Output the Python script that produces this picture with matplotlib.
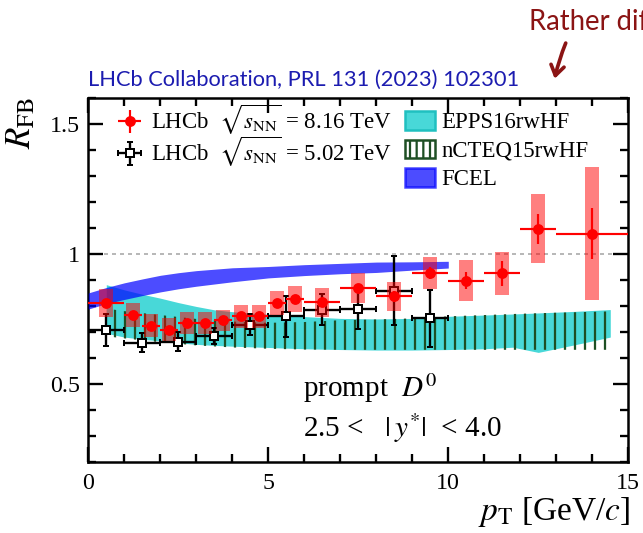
import matplotlib
matplotlib.use('Agg')
import matplotlib.pyplot as plt
from matplotlib.patches import Patch
from matplotlib.ticker import FixedLocator, MultipleLocator, FixedFormatter

# ---------------- data ----------------
# LHCb 8.16 TeV prompt D0
red_x = [0.5, 1.25, 1.75, 2.25, 2.75, 3.25, 3.75, 4.25, 4.75, 5.25, 5.75, 6.5, 7.5, 8.5, 9.5, 10.5, 11.5, 12.5, 14.0]
red_xerr = [0.5, 0.25, 0.25, 0.25, 0.25, 0.25, 0.25, 0.25, 0.25, 0.25, 0.25, 0.5, 0.5, 0.5, 0.5, 0.5, 0.5, 0.5, 1.0]
red_y = [0.812, 0.766, 0.724, 0.708, 0.734, 0.734, 0.744, 0.760, 0.760, 0.812, 0.827, 0.814, 0.868, 0.837, 0.927, 0.898, 0.925, 1.097, 1.079]
red_stat = [0.012, 0.010, 0.010, 0.010, 0.010, 0.010, 0.010, 0.010, 0.010, 0.012, 0.013, 0.014, 0.016, 0.020, 0.022, 0.032, 0.050, 0.058, 0.098]
red_syst = [0.055, 0.047, 0.044, 0.044, 0.043, 0.043, 0.042, 0.045, 0.045, 0.047, 0.050, 0.055, 0.057, 0.057, 0.063, 0.078, 0.083, 0.133, 0.255]

# LHCb 5.02 TeV
black_x = [0.5, 1.5, 2.5, 3.5, 4.5, 5.5, 6.5, 7.5, 8.5, 9.5]
black_xerr = [0.5, 0.5, 0.5, 0.5, 0.5, 0.5, 0.5, 0.5, 0.5, 0.5]
black_y = [0.707, 0.659, 0.663, 0.685, 0.728, 0.760, 0.786, 0.788, 0.859, 0.753]
black_yerr = [0.062, 0.035, 0.035, 0.030, 0.040, 0.080, 0.060, 0.077, 0.134, 0.110]

# EPPS16rwHF band
epps_x = [0.5, 1.0, 1.5, 2.0, 2.5, 3.0, 3.5, 4.0, 5.0, 6.0, 7.0, 8.0, 9.0, 10.0, 11.0, 11.8, 12.5, 13.5, 14.5]
epps_hi = [0.882, 0.862, 0.845, 0.830, 0.813, 0.798, 0.785, 0.778, 0.768, 0.759, 0.752, 0.750, 0.752, 0.760, 0.765, 0.769, 0.773, 0.779, 0.786]
epps_lo = [0.695, 0.680, 0.672, 0.665, 0.658, 0.652, 0.648, 0.645, 0.640, 0.635, 0.632, 0.630, 0.630, 0.632, 0.635, 0.641, 0.621, 0.650, 0.680]

# nCTEQ15rwHF band
ncteq_x = [0.5, 1.0, 2.0, 3.0, 4.0, 5.0, 6.0, 7.0, 8.0, 9.0, 10.0, 11.0, 12.0, 13.0, 14.5]
ncteq_hi = [0.790, 0.780, 0.765, 0.750, 0.740, 0.735, 0.738, 0.745, 0.748, 0.752, 0.760, 0.765, 0.770, 0.774, 0.779]
ncteq_lo = [0.683, 0.675, 0.660, 0.648, 0.640, 0.635, 0.632, 0.631, 0.631, 0.631, 0.631, 0.631, 0.631, 0.631, 0.631]

# FCEL band
fcel_x = [0.0, 0.5, 1.0, 1.5, 2.0, 2.5, 3.0, 4.0, 5.0, 6.0, 7.0, 8.0, 9.0, 10.0]
fcel_hi = [0.850, 0.871, 0.889, 0.904, 0.918, 0.928, 0.936, 0.947, 0.952, 0.959, 0.964, 0.969, 0.970, 0.972]
fcel_lo = [0.788, 0.809, 0.825, 0.840, 0.854, 0.866, 0.876, 0.893, 0.908, 0.917, 0.924, 0.929, 0.938, 0.946]

x_major = [0, 5, 10, 15]
x_labels = ['0', '5', '10', '15']
y_major = [0.5, 1.0, 1.5]
y_labels = ['0.5', '1', '1.5']

# ---------------- style ----------------
plt.rcParams['font.family'] = ['Liberation Serif', 'DejaVu Serif']
plt.rcParams['mathtext.fontset'] = 'stix'
plt.rcParams['hatch.linewidth'] = 1.35

DPI = 120
fig = plt.figure(figsize=(643 / DPI, 533 / DPI), dpi=DPI)
ax = fig.add_axes([0.1373, 0.1338, 0.8398, 0.6818])

c_red = '#ff0000'
c_cyan = '#48d8d8'
c_green = '#1e4f24'
c_blue = '#0000ff'

ax.axhline(1.0, color='#b8b8b8', ls=(0, (2, 2)), lw=1.2, zorder=0.5)

ax.fill_between(epps_x, epps_lo, epps_hi, color=c_cyan, lw=0, zorder=1)
ax.fill_between(ncteq_x, ncteq_lo, ncteq_hi, facecolor='none', edgecolor=c_green,
                hatch='||', lw=0, zorder=2)
ax.fill_between(fcel_x, fcel_lo, fcel_hi, color=c_blue, alpha=0.7, lw=0, zorder=3)

eb_black = ax.errorbar(black_x, black_y, xerr=black_xerr, yerr=black_yerr, fmt='s',
                       color='black', mfc='white', mec='black', ms=4.5, mew=1.2,
                       elinewidth=1.4, capsize=1.8, capthick=1.4, zorder=4)

ax.bar(red_x, [2 * s for s in red_syst], width=0.4,
       bottom=[v - s for v, s in zip(red_y, red_syst)],
       color=c_red, alpha=0.5, lw=0, zorder=5)

eb_red = ax.errorbar(red_x, red_y, xerr=red_xerr, yerr=red_stat, fmt='o',
                     color=c_red, ms=5.5, elinewidth=1.3, capsize=0, zorder=6)

ax.set_xlim(0, 15)
ax.set_ylim(0.2, 1.6)
ax.xaxis.set_major_locator(FixedLocator(x_major))
ax.xaxis.set_major_formatter(FixedFormatter(x_labels))
ax.xaxis.set_minor_locator(MultipleLocator(1))
ax.yaxis.set_major_locator(FixedLocator(y_major))
ax.yaxis.set_major_formatter(FixedFormatter(y_labels))
ax.yaxis.set_minor_locator(MultipleLocator(0.1))
ax.tick_params(which='both', direction='in', top=True, right=True, width=1.4, colors='black')
ax.tick_params(which='major', length=9, labelsize=14.4)
ax.tick_params(axis='x', which='major', pad=6.5)
ax.tick_params(axis='y', which='major', pad=5)
ax.tick_params(which='minor', length=4.6)
for sp in ax.spines.values():
    sp.set_linewidth(1.5)

ax.set_ylabel(r'$R_{\mathrm{FB}}$', fontsize=21, loc='top')
ax.yaxis.set_label_coords(-0.093, 1.004)
ax.set_xlabel(r'$p_{\mathrm{T}}$ [GeV/$c$]', fontsize=20, loc='right')
ax.xaxis.set_label_coords(1.004, -0.092)

ax.text(0.3976, 0.178, r'prompt  $D^0$', transform=ax.transAxes, fontsize=17.5)
ax.text(0.3976, 0.067, r'2.5 <   $|\,y^{*}|$  < 4.0', transform=ax.transAxes, fontsize=17.5)

leg1 = ax.legend([eb_red, eb_black],
                 [r'LHCb  $\sqrt{s_{\mathrm{NN}}}$ = 8.16 TeV', r'LHCb  $\sqrt{s_{\mathrm{NN}}}$ = 5.02 TeV'],
                 loc='upper left', bbox_to_anchor=(0.049, 0.987), frameon=False,
                 fontsize=13.7, handlelength=1.3, handletextpad=0.3, labelspacing=-0.1,
                 borderpad=0, borderaxespad=0)
ax.add_artist(leg1)

h_epps = Patch(facecolor=c_cyan, edgecolor='#20c0c0', lw=1.5)
h_ncteq = Patch(facecolor='white', edgecolor=c_green, hatch='|||', lw=1.5)
h_fcel = Patch(facecolor=c_blue, edgecolor=c_blue, alpha=0.7, lw=1.5)
ax.legend([h_epps, h_ncteq, h_fcel], ['EPPS16rwHF', 'nCTEQ15rwHF', 'FCEL'],
          loc='upper left', bbox_to_anchor=(0.5865, 0.965), frameon=False,
          fontsize=13.7, handlelength=1.3, handleheight=0.9, handletextpad=0.3,
          labelspacing=0.27, borderpad=0, borderaxespad=0)

fig.text(88 / 643, 1 - 86 / 533, 'LHCb Collaboration, PRL 131 (2023) 102301',
         color='#1c1cb0', fontsize=13.1, family=['Lato', 'DejaVu Sans'], va='baseline')
fig.text(529 / 643, 1 - 30 / 533, 'Rather different', color='#8b1414',
         fontsize=16.5, family=['Lato', 'DejaVu Sans'], va='baseline')
ax.annotate('', xy=(554 / 643, 1 - 82 / 533), xytext=(567 / 643, 1 - 40 / 533),
            xycoords='figure fraction', textcoords='figure fraction',
            arrowprops=dict(arrowstyle='->,head_length=0.6,head_width=0.4',
                            color='#8b1414', lw=2.2, connectionstyle='arc3,rad=0.05'),
            annotation_clip=False)

fig.savefig('out.png', dpi=DPI)
